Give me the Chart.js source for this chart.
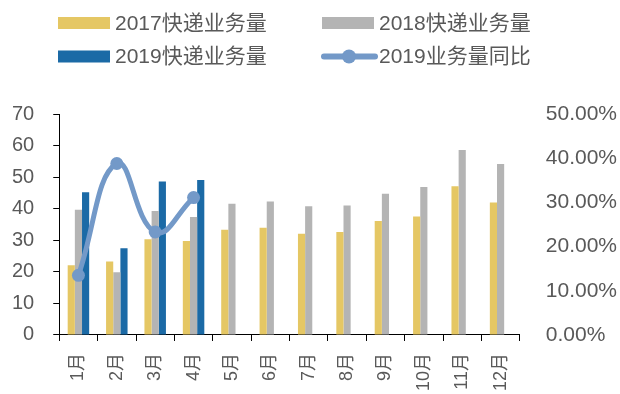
<!DOCTYPE html>
<html>
<head>
<meta charset="utf-8">
<script src="https://cdn.jsdelivr.net/npm/chart.js@4"></script>
<style>
  html, body { margin: 0; padding: 0; background: #fff; }
  #wrap { width: 620px; height: 394px; }
</style>
</head>
<body>
<div id="wrap"><canvas id="expressChart"></canvas></div>
<script>
const months = ["1月", "2月", "3月", "4月", "5月", "6月", "7月", "8月", "9月", "10月", "11月", "12月"];
const volume2017 = [22.1, 23.3, 30.3, 29.8, 33.3, 34.0, 32.1, 32.6, 36.1, 37.5, 47.1, 42.0];
const volume2018 = [39.7, 19.9, 39.3, 37.4, 41.6, 42.3, 40.8, 41.0, 44.7, 46.9, 58.6, 54.2];
const volume2019 = [45.2, 27.5, 48.6, 49.1, null, null, null, null, null, null, null, null];
const growth2019 = [13.5, 38.8, 23.3, 31.1, null, null, null, null, null, null, null, null];

const FONT = '"Liberation Sans", "Noto Sans CJK SC", sans-serif';
const TEXT = "#595959";

// two-column legend above the plot
const gridLegend = {
    id: "gridLegend",
    afterDraw(chart) {
        const ctx = chart.ctx;
        const cols = [58, 322];
        const rows = [23, 56.5];
        ctx.save();
        ctx.font = "21px " + FONT;
        ctx.textBaseline = "middle";
        chart.data.datasets.forEach((ds, i) => {
            const x = cols[i % 2];
            const y = rows[Math.floor(i / 2)];
            if (ds.type === "line") {
                ctx.strokeStyle = ds.borderColor;
                ctx.lineWidth = 6;
                ctx.lineCap = "round";
                ctx.beginPath();
                ctx.moveTo(x + 2, y);
                ctx.lineTo(x + 53, y);
                ctx.stroke();
                ctx.fillStyle = ds.borderColor;
                ctx.beginPath();
                ctx.arc(x + 27, y, 7, 0, Math.PI * 2);
                ctx.fill();
            } else {
                ctx.fillStyle = ds.backgroundColor;
                ctx.fillRect(x, y - 6, 52, 12);
            }
            ctx.fillStyle = TEXT;
            ctx.fillText(ds.label, x + 57, y + 1);
        });
        ctx.restore();
    }
};

// axis boxes only as big as tick + padding + label, no extra edge space
const tightAxis = (scale) => {
    const pad = scale.options.ticks.padding;
    scale.paddingLeft = 0;
    scale.paddingRight = 0;
    scale.paddingTop = 0;
    scale.paddingBottom = 0;
    if (scale.isHorizontal()) {
        scale.height -= pad;
    } else {
        scale.width -= pad;
    }
};

Chart.defaults.font.family = FONT;
Chart.defaults.color = TEXT;

new Chart("expressChart", {
    type: "bar",
    data: {
        labels: months,
        datasets: [
            { label: "2017快递业务量", data: volume2017, backgroundColor: "#E5C764", yAxisID: "y", order: 1 },
            { label: "2018快递业务量", data: volume2018, backgroundColor: "#B4B4B4", yAxisID: "y", order: 1 },
            { label: "2019快递业务量", data: volume2019, backgroundColor: "#1B6AA6", yAxisID: "y", order: 1 },
            {
                type: "line",
                label: "2019业务量同比",
                data: growth2019,
                yAxisID: "y1",
                order: 0,
                borderColor: "#7399C8",
                backgroundColor: "#7399C8",
                borderWidth: 5,
                pointRadius: 6.5,
                pointBorderWidth: 0,
                pointBackgroundColor: "#7399C8",
                tension: 0.45
            }
        ]
    },
    options: {
        responsive: true,
        maintainAspectRatio: false,
        animation: false,
        layout: { padding: { top: 114, left: 12, right: 3, bottom: 3 } },
        datasets: { bar: { barPercentage: 1, categoryPercentage: 0.56 } },
        plugins: {
            legend: { display: false },
            tooltip: { enabled: false }
        },
        scales: {
            x: {
                afterFit: tightAxis,
                grid: { drawOnChartArea: false, color: "#000", tickLength: 6 },
                border: { color: "#000", width: 1 },
                ticks: { minRotation: 90, maxRotation: 90, padding: 12, font: { size: 18 } }
            },
            y: {
                position: "left",
                afterFit: tightAxis,
                min: 0,
                max: 70,
                ticks: { stepSize: 10, padding: 19, font: { size: 20 } },
                grid: { drawOnChartArea: false, color: "#000", tickLength: 6 },
                border: { color: "#000", width: 1 }
            },
            y1: {
                position: "right",
                afterFit: tightAxis,
                min: 0,
                max: 50,
                ticks: {
                    stepSize: 10,
                    padding: 18,
                    font: { size: 21 },
                    callback: (v) => v.toFixed(2) + "%"
                },
                grid: { display: false },
                border: { display: false }
            }
        }
    },
    plugins: [gridLegend]
});
</script>
</body>
</html>
